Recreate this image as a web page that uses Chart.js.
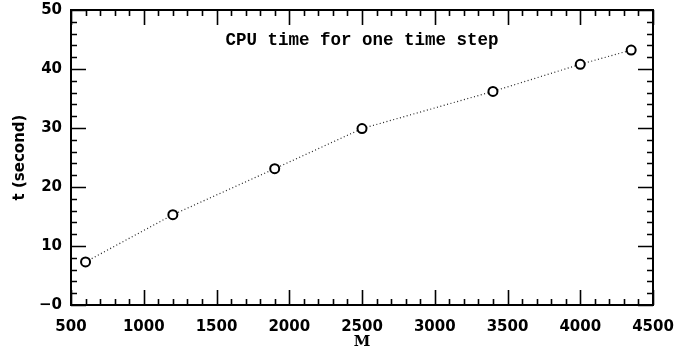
<!DOCTYPE html>
<html>
<head>
<meta charset="utf-8">
<script src="https://cdn.jsdelivr.net/npm/chart.js@4/dist/chart.umd.min.js"></script>
<style>
html,body{margin:0;padding:0;background:#fff;}
#wrap{width:674px;height:355px;}
</style>
</head>
<body>
<div id="wrap"><canvas id="c" width="674" height="355"></canvas></div>
<script>
const mValues = [600, 1200, 1900, 2500, 3400, 4000, 4350];
const tValues = [7.3, 15.3, 23.1, 29.9, 36.2, 40.8, 43.2];
const xTicks = [500, 1000, 1500, 2000, 2500, 3000, 3500, 4000, 4500];
const yTicks = [0, 10, 20, 30, 40, 50];
const chartTitle = 'CPU time for one time step';
const xLabel = 'M';
const yLabel = 't (second)';

const points = mValues.map((m, i) => ({x: m, y: tValues[i]}));

const frameTicks = {
  id: 'frameTicks',
  afterDraw(chart) {
    const ctx = chart.ctx;
    const a = chart.chartArea;
    const xs = chart.scales.x, ys = chart.scales.y;
    ctx.save();
    ctx.strokeStyle = '#000';
    ctx.lineWidth = 1.6;
    ctx.beginPath();
    for (let v = xs.min; v <= xs.max + 0.001; v += 100) {
      const px = Math.round(xs.getPixelForValue(v)) + 0.5;
      const len = (v % 500 === 0) ? 15 : 6;
      ctx.moveTo(px, a.bottom); ctx.lineTo(px, a.bottom - len);
      ctx.moveTo(px, a.top); ctx.lineTo(px, a.top + len);
    }
    for (let v = ys.min; v <= ys.max + 0.001; v += 2) {
      const py = Math.round(ys.getPixelForValue(v)) + 0.5;
      const len = (v % 10 === 0) ? 15 : 6;
      ctx.moveTo(a.left, py); ctx.lineTo(a.left + len, py);
      ctx.moveTo(a.right, py); ctx.lineTo(a.right - len, py);
    }
    ctx.stroke();
    ctx.lineWidth = 2;
    ctx.strokeRect(a.left, a.top, a.right - a.left, a.bottom - a.top);
    ctx.fillStyle = '#000';
    ctx.font = 'bold 17.5px "Liberation Mono"';
    ctx.textAlign = 'center';
    ctx.textBaseline = 'middle';
    ctx.fillText(chartTitle, (a.left + a.right) / 2, a.top + 31);
    ctx.restore();
  }
};

const tickFont = {family: '"DejaVu Sans"', weight: 'bold', size: 15};

new Chart(document.getElementById('c'), {
  type: 'scatter',
  data: {
    datasets: [{
      data: points,
      showLine: true,
      borderColor: '#222',
      borderWidth: 1.2,
      borderDash: [1, 2.5],
      pointRadius: 4.5,
      pointBorderWidth: 2,
      pointBorderColor: '#000',
      pointBackgroundColor: '#fff',
      tension: 0
    }]
  },
  options: {
    responsive: false,
    animation: false,
    layout: {padding: {top: 10, right: 21, left: 0, bottom: 0}},
    plugins: {legend: {display: false}, tooltip: {enabled: false}},
    scales: {
      x: {
        type: 'linear', min: 500, max: 4500,
        afterFit(s) { s.height = 50; s.paddingLeft = 0; s.paddingRight = 0; },
        afterBuildTicks(s) { s.ticks = xTicks.map(v => ({value: v})); },
        grid: {display: false, drawTicks: false},
        border: {display: false},
        ticks: {color: '#000', padding: 13, maxRotation: 0, autoSkip: false,
                font: tickFont, callback: v => String(v)},
        title: {display: true, text: xLabel, color: '#000',
                font: {family: '"DejaVu Serif"', weight: 'bold', size: 15},
                padding: {top: 0, bottom: 4}}
      },
      y: {
        type: 'linear', min: 0, max: 50,
        afterFit(s) { s.width = 71; s.paddingTop = 0; s.paddingBottom = 0; },
        afterBuildTicks(s) { s.ticks = yTicks.map(v => ({value: v})); },
        grid: {display: false, drawTicks: false},
        border: {display: false},
        ticks: {color: '#000', padding: 9, autoSkip: false,
                font: tickFont,
                callback: v => v === 0 ? '\u22120' : String(v)},
        title: {display: true, text: yLabel, color: '#000',
                font: {family: '"DejaVu Sans"', weight: 'bold', size: 15},
                padding: {top: 11, bottom: 0}}
      }
    }
  },
  plugins: [frameTicks]
});
</script>
</body>
</html>
